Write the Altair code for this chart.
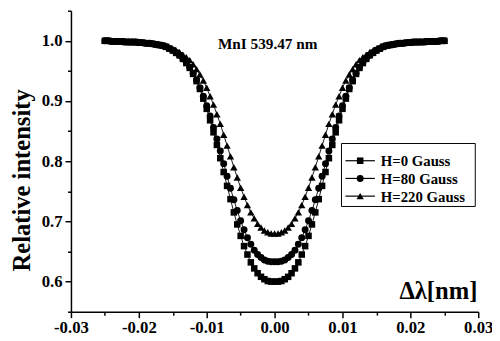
import altair as alt
import pandas as pd

# wavelength offset from line centre [nm]
dl = [-0.025, -0.0245, -0.024, -0.0235, -0.023, -0.0225, -0.022, -0.0215, -0.021, -0.0205,
      -0.02, -0.0195, -0.019, -0.0185, -0.018, -0.0175, -0.017, -0.0165, -0.016, -0.0155,
      -0.015, -0.0145, -0.014, -0.0135, -0.013, -0.0125, -0.012, -0.0115, -0.011, -0.0105,
      -0.01, -0.0095, -0.009, -0.0085, -0.008, -0.0075, -0.007, -0.0065, -0.006, -0.0055,
      -0.005, -0.0045, -0.004, -0.0035, -0.003, -0.0025, -0.002, -0.0015, -0.001, -0.0005,
      0.0,
      0.0005, 0.001, 0.0015, 0.002, 0.0025, 0.003, 0.0035, 0.004, 0.0045, 0.005,
      0.0055, 0.006, 0.0065, 0.007, 0.0075, 0.008, 0.0085, 0.009, 0.0095, 0.01,
      0.0105, 0.011, 0.0115, 0.012, 0.0125, 0.013, 0.0135, 0.014, 0.0145, 0.015,
      0.0155, 0.016, 0.0165, 0.017, 0.0175, 0.018, 0.0185, 0.019, 0.0195, 0.02,
      0.0205, 0.021, 0.0215, 0.022, 0.0225, 0.023, 0.0235, 0.024, 0.0245, 0.025]

i_h0 = [1.000, 1.000, 0.999, 0.999, 0.999, 0.999, 0.998, 0.998, 0.998, 0.998,
        0.997, 0.997, 0.996, 0.996, 0.995, 0.994, 0.993, 0.992, 0.990, 0.987,
        0.984, 0.980, 0.976, 0.970, 0.963, 0.955, 0.945, 0.933, 0.920, 0.904,
        0.887, 0.868, 0.848, 0.827, 0.805, 0.782, 0.759, 0.737, 0.715, 0.695,
        0.676, 0.659, 0.645, 0.632, 0.622, 0.614, 0.608, 0.604, 0.601, 0.600,
        0.600,
        0.600, 0.601, 0.604, 0.608, 0.614, 0.622, 0.632, 0.645, 0.659, 0.676,
        0.695, 0.715, 0.737, 0.759, 0.782, 0.805, 0.827, 0.848, 0.868, 0.887,
        0.904, 0.920, 0.933, 0.945, 0.955, 0.963, 0.970, 0.976, 0.980, 0.984,
        0.987, 0.990, 0.992, 0.993, 0.994, 0.995, 0.996, 0.996, 0.997, 0.997,
        0.998, 0.998, 0.998, 0.998, 0.999, 0.999, 0.999, 0.999, 1.000, 1.000]

i_h80 = [1.000, 1.000, 0.999, 0.999, 0.999, 0.999, 0.998, 0.998, 0.998, 0.998,
         0.997, 0.997, 0.996, 0.996, 0.995, 0.994, 0.993, 0.992, 0.990, 0.987,
         0.984, 0.980, 0.976, 0.970, 0.964, 0.956, 0.946, 0.935, 0.922, 0.908,
         0.892, 0.875, 0.856, 0.837, 0.817, 0.796, 0.775, 0.755, 0.736, 0.718,
         0.701, 0.686, 0.673, 0.662, 0.652, 0.645, 0.640, 0.636, 0.634, 0.633,
         0.633,
         0.633, 0.634, 0.636, 0.640, 0.645, 0.652, 0.662, 0.673, 0.686, 0.701,
         0.718, 0.736, 0.755, 0.775, 0.796, 0.817, 0.837, 0.856, 0.875, 0.892,
         0.908, 0.922, 0.935, 0.946, 0.956, 0.964, 0.970, 0.976, 0.980, 0.984,
         0.987, 0.990, 0.992, 0.993, 0.994, 0.995, 0.996, 0.996, 0.997, 0.997,
         0.998, 0.998, 0.998, 0.998, 0.999, 0.999, 0.999, 0.999, 1.000, 1.000]

i_h220 = [1.000, 1.000, 1.000, 1.000, 0.999, 0.999, 0.999, 0.999, 0.998, 0.998,
          0.998, 0.997, 0.997, 0.996, 0.996, 0.995, 0.994, 0.993, 0.991, 0.989,
          0.987, 0.984, 0.981, 0.977, 0.973, 0.968, 0.961, 0.953, 0.944, 0.934,
          0.922, 0.908, 0.894, 0.878, 0.862, 0.844, 0.826, 0.808, 0.790, 0.773,
          0.756, 0.741, 0.727, 0.715, 0.705, 0.696, 0.690, 0.685, 0.682, 0.680,
          0.680,
          0.680, 0.682, 0.685, 0.690, 0.696, 0.705, 0.715, 0.727, 0.741, 0.756,
          0.773, 0.790, 0.808, 0.826, 0.844, 0.862, 0.878, 0.894, 0.908, 0.922,
          0.934, 0.944, 0.953, 0.961, 0.968, 0.973, 0.977, 0.981, 0.984, 0.987,
          0.989, 0.991, 0.993, 0.994, 0.995, 0.996, 0.996, 0.997, 0.997, 0.998,
          0.998, 0.998, 0.999, 0.999, 0.999, 0.999, 1.000, 1.000, 1.000, 1.000]

series = ["H=0 Gauss", "H=80 Gauss", "H=220 Gauss"]
x_ticks = [-0.03, -0.025, -0.02, -0.015, -0.01, -0.005, 0.0, 0.005, 0.01, 0.015, 0.02, 0.025, 0.03]
y_ticks = [0.55, 0.6, 0.65, 0.7, 0.75, 0.8, 0.85, 0.9, 0.95, 1.0, 1.05]

assert len(dl) == len(i_h0) == len(i_h80) == len(i_h220) == 101

rows = []
for name, vals in zip(series, [i_h0, i_h80, i_h220]):
    for x, v in zip(dl, vals):
        rows.append({"dl": x, "I": v, "H": name})
df = pd.DataFrame(rows)

serif = "Liberation Serif"

x_axis = alt.Axis(
    values=x_ticks, format=".2f",
    labelExpr="round(datum.value*1000) % 10 == 0 ? replace(datum.label, '\u2212', '-') : ''",
    tickSize={"condition": {"test": "round(datum.value*1000) % 10 == 0", "value": 6}, "value": 3.5},
    labelPadding=2, labelFlush=False, labelOverlap=False,
    title="\u0394\u03bb[nm]", titleX=373, titleY=-21, titleAlign="center",
    titleBaseline="middle", titleFontSize=25, titleFont=serif, titleFontWeight="bold",
)
y_axis = alt.Axis(
    values=y_ticks, format=".1f",
    labelExpr="round(datum.value*100) % 10 == 0 ? datum.label : ''",
    tickSize={"condition": {"test": "round(datum.value*100) % 10 == 0", "value": 6}, "value": 3.5},
    labelPadding=3, labelFlush=False, labelOverlap=False,
    title="Relative intensity", titleX=-50, titleY=172, titleAngle=270,
    titleAlign="center", titleBaseline="middle", titleFontSize=25,
    titleFont=serif, titleFontWeight="bold",
)

xs = alt.Scale(domain=[-0.03, 0.03], nice=False, zero=False)
ys = alt.Scale(domain=[0.55, 1.05], nice=False, zero=False)

base = alt.Chart(df).encode(
    x=alt.X("dl:Q", scale=xs, axis=x_axis),
    y=alt.Y("I:Q", scale=ys, axis=y_axis),
)

lines = base.mark_line(color="black", strokeWidth=0.9).encode(detail="H:N")

marker_shapes = ["square", "circle", "triangle-up"]
marker_sizes = [44, 50, 56]
point_layers = [
    base.transform_filter(alt.datum.H == name).mark_point(
        filled=True, color="black", opacity=1, shape=shp, size=sz
    )
    for name, shp, sz in zip(series, marker_shapes, marker_sizes)
]

# ---- legend (boxed, drawn in pixel space of the plot) ----
box = alt.Chart(pd.DataFrame({"k": [0]})).mark_rect(
    fill="white", stroke="black", strokeWidth=1
).encode(x=alt.value(275), x2=alt.value(411), y=alt.value(135), y2=alt.value(199))

legend_layers = [box]
row_y = [152.5, 170.5, 188.5]
for name, shp, sz, yy in zip(series, marker_shapes, marker_sizes, row_y):
    one = alt.Chart(pd.DataFrame({"H": [name]}))
    legend_layers.append(
        one.mark_rule(color="black", strokeWidth=1.2).encode(
            x=alt.value(279), x2=alt.value(309), y=alt.value(yy))
    )
    legend_layers.append(
        one.mark_point(filled=True, color="black", opacity=1, shape=shp, size=sz).encode(
            x=alt.value(294), y=alt.value(yy))
    )
    legend_layers.append(
        one.mark_text(font=serif, fontSize=15, fontWeight="bold", color="black",
                      align="left", baseline="middle").encode(
            text="H:N", x=alt.value(315), y=alt.value(yy + 0.5))
    )

note = alt.Chart(pd.DataFrame({"t": ["MnI 539.47 nm"]})).mark_text(
    font=serif, fontSize=15.5, fontWeight="bold", color="black"
).encode(text="t:N", x=alt.value(200), y=alt.value(34))

chart = alt.layer(lines, *point_layers, *legend_layers, note).properties(
    width=414, height=306,
    autosize=alt.AutoSizeParams(type="none"),
    padding={"left": 64, "top": 0, "right": 14, "bottom": 27},
).configure_view(stroke=None).configure_axis(
    grid=False, domainColor="black", domainWidth=1.5, tickColor="black", tickWidth=1.5,
    labelFont=serif, labelFontSize=17, labelFontWeight="bold", labelColor="black",
    titleColor="black",
)

chart.save("out.html", embed_options={"renderer": "svg", "actions": False})
